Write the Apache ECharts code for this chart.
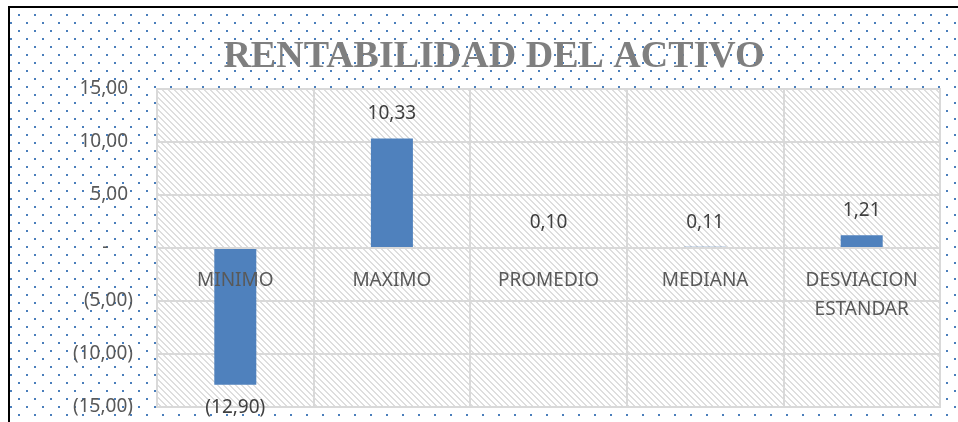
<!DOCTYPE html>
<html>
<head>
<meta charset="utf-8">
<script src="https://cdn.jsdelivr.net/npm/echarts@6/dist/echarts.min.js"></script>
<style>
  html, body { margin: 0; padding: 0; background: #fff; }
  #chart { width: 958px; height: 422px; }
</style>
</head>
<body>
<div id="chart"></div>
<script>
// datos
const categories = ['MINIMO', 'MAXIMO', 'PROMEDIO', 'MEDIANA', 'DESVIACION\nESTANDAR']
const values = [-12.90, 10.33, 0.10, 0.11, 1.21]
const yTicks = [-15, -10, -5, 0, 5, 10, 15]

function fmt(v) {
  let s = Math.abs(v).toFixed(2).replace('.', ',')
  if (v < 0) return '(' + s + ')'
  if (v === 0) return '-'
  return s
}

// fondo punteado (azul)
function dotPattern() {
  let c = document.createElement('canvas')
  c.width = 16
  c.height = 16
  let ctx = c.getContext('2d')
  ctx.fillStyle = '#4a7ebb'
  ctx.fillRect(10, 6, 2, 2)
  ctx.fillRect(2, 14, 2, 2)
  return c
}

// rayado diagonal del area de trazado
function hatchPattern() {
  let c = document.createElement('canvas')
  c.width = 6
  c.height = 6
  let ctx = c.getContext('2d')
  ctx.fillStyle = '#ffffff'
  ctx.fillRect(0, 0, 6, 6)
  ctx.fillStyle = '#dedede'
  for (let y = 0; y < 6; y++) {
    for (let x = 0; x < 6; x++) {
      if ((((x - y) % 6) + 6) % 6 < 2) ctx.fillRect(x, y, 1, 1)
    }
  }
  return c
}

let myChart = echarts.init(document.getElementById('chart'))

// el eje de categorias se sube hasta el cero (mitad del area de trazado)
let gridTop = 89
let gridBottom = 15
let zeroOffset = -((422 - gridTop - gridBottom) / 2)

let option = {
  backgroundColor: '#fff',
  animation: false,
  graphic: [
    {
      type: 'rect',
      z: -10,
      silent: true,
      shape: {x: 10, y: 8, width: 948, height: 414},
      style: {fill: {image: dotPattern(), repeat: 'repeat'}}
    },
    {
      type: 'rect',
      silent: true,
      shape: {x: 8, y: 6, width: 950, height: 2},
      style: {fill: '#000'}
    },
    {
      type: 'rect',
      silent: true,
      shape: {x: 8, y: 6, width: 2, height: 416},
      style: {fill: '#000'}
    }
  ],
  title: {
    text: 'RENTABILIDAD DEL ACTIVO',
    left: 489,
    textAlign: 'center',
    top: 33,
    textStyle: {
      fontFamily: 'Liberation Serif',
      fontWeight: 'bold',
      fontSize: 38,
      color: '#7f7f7f'
    }
  },
  grid: {
    left: 157,
    right: 18,
    top: gridTop,
    bottom: gridBottom,
    containLabel: false,
    outerBoundsMode: 'none',
    show: true,
    borderColor: '#d9d9d9',
    borderWidth: 2,
    backgroundColor: {image: hatchPattern(), repeat: 'repeat'}
  },
  xAxis: {
    type: 'category',
    data: categories,
    offset: zeroOffset,
    z: 5,
    axisTick: {show: false},
    axisLine: {show: true, onZero: false, lineStyle: {color: '#d9d9d9', width: 2}},
    splitLine: {show: true, interval: 0, lineStyle: {color: '#d9d9d9', width: 2}},
    axisLabel: {
      interval: 0,
      margin: 18,
      color: '#595959',
      fontFamily: 'Noto Sans',
      fontSize: 19,
      lineHeight: 29
    }
  },
  yAxis: {
    type: 'value',
    min: yTicks[0],
    max: yTicks[yTicks.length - 1],
    interval: 5,
    axisLine: {show: false},
    axisTick: {show: false},
    splitLine: {show: true, lineStyle: {color: '#d9d9d9', width: 2}},
    axisLabel: {
      margin: 24,
      color: '#595959',
      fontFamily: 'Noto Sans',
      fontSize: 19,
      formatter: function (v) {
        if (v === 0) return '-     '
        return v > 0 ? fmt(v) + ' ' : fmt(v)
      }
    }
  },
  series: [
    {
      type: 'bar',
      barWidth: 42,
      z: 1,
      itemStyle: {color: '#4f81bd'},
      label: {
        show: true,
        position: 'top',
        distance: 15,
        color: '#404040',
        fontFamily: 'Noto Sans',
        fontSize: 19,
        formatter: function (p) {
          return fmt(p.value)
        }
      },
      data: values.map(function (v) {
        if (v < 0) {
          return {value: v, label: {position: 'bottom', distance: 13}}
        }
        return v
      })
    }
  ]
}

myChart.setOption(option)
</script>
</body>
</html>
